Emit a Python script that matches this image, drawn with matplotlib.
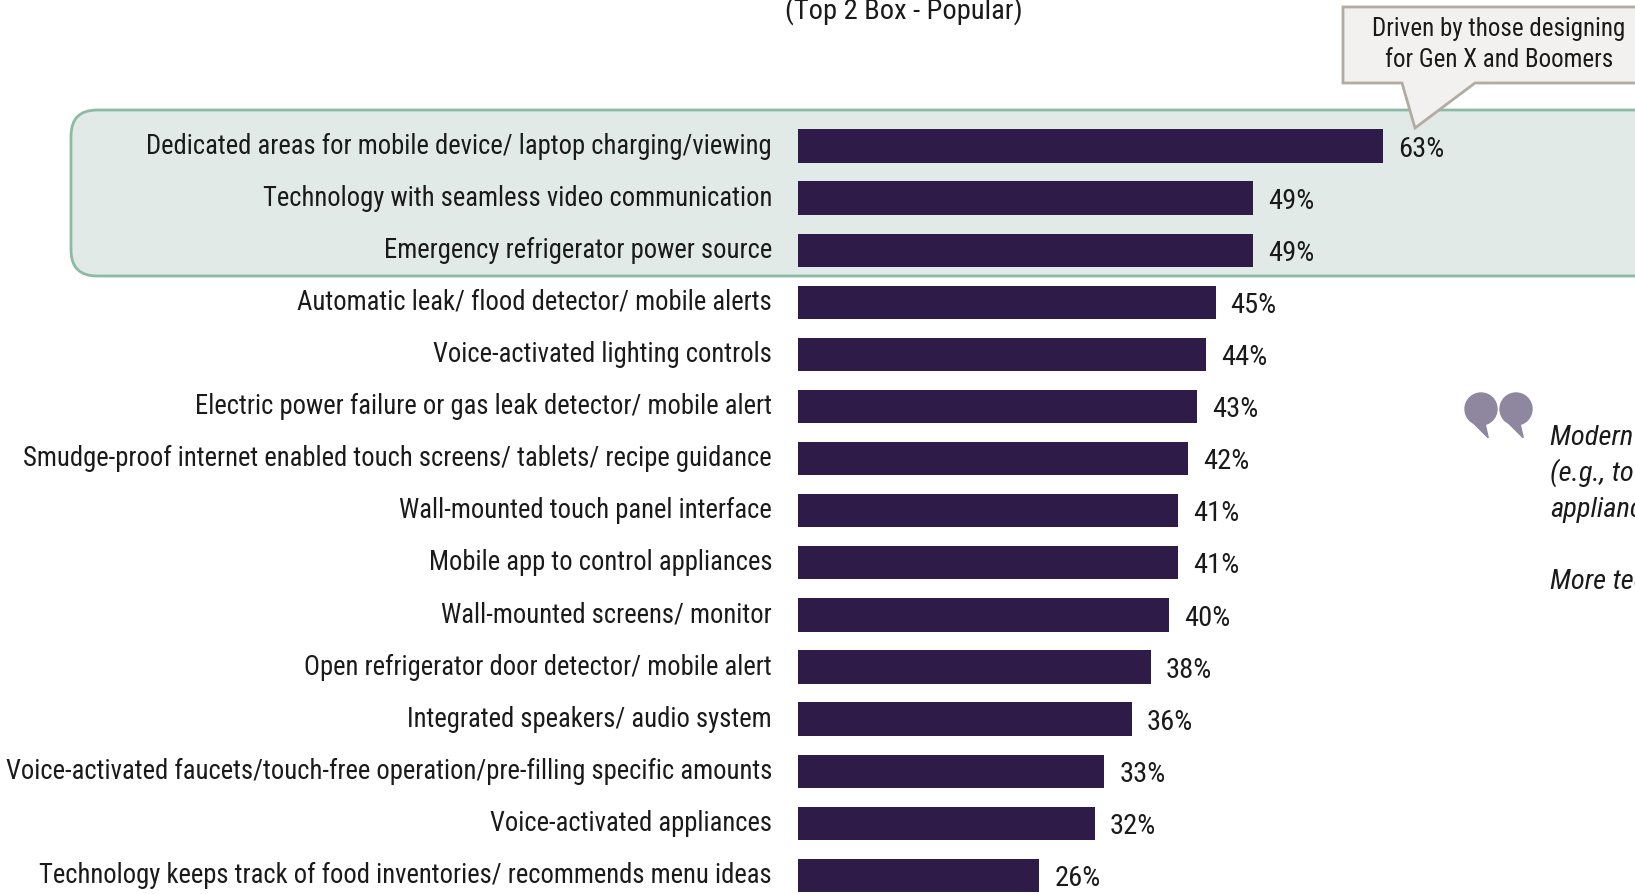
"""
Horizontal bar chart of popular kitchen technology features (top 2 box).
"""

import matplotlib.pyplot as plt
from matplotlib.patches import Circle, FancyBboxPatch, Polygon

features = [
    "Dedicated areas for mobile device/ laptop charging/viewing",
    "Technology with seamless video communication",
    "Emergency refrigerator power source",
    "Automatic leak/ flood detector/ mobile alerts",
    "Voice-activated lighting controls",
    "Electric power failure or gas leak detector/ mobile alert",
    "Smudge-proof internet enabled touch screens/ tablets/ recipe guidance",
    "Wall-mounted touch panel interface",
    "Mobile app to control appliances",
    "Wall-mounted screens/ monitor",
    "Open refrigerator door detector/ mobile alert",
    "Integrated speakers/ audio system",
    "Voice-activated faucets/touch-free operation/pre-filling specific amounts",
    "Voice-activated appliances",
    "Technology keeps track of food inventories/ recommends menu ideas",
]
popular = [63, 49, 49, 45, 44, 43, 42, 41, 41, 40, 38, 36, 33, 32, 26]
value_labels = ["63%", "49%", "49%", "45%", "44%", "43%", "42%", "41%",
                "41%", "40%", "38%", "36%", "33%", "32%", "26%"]

quote_lines = ["Modern technology", "(e.g., touch screens", "appliances", "", "More technology"]

FONT = ["Roboto Condensed", "DejaVu Sans"]
BAR = "#2f1b47"
W, H = 1635, 894

fig = plt.figure(figsize=(W / 100, H / 100), dpi=100)

# pixel-space layer for the boxes and side notes
bg = fig.add_axes([0, 0, 1, 1])
bg.set_xlim(0, W)
bg.set_ylim(H, 0)
bg.axis("off")

bg.text(904, 19, "(Top 2 Box - Popular)", ha="center", va="baseline",
        fontsize=20.5, family=FONT, color="#1a1a1a")

hl = FancyBboxPatch((71, 110), 1700, 166, boxstyle="round,pad=0,rounding_size=26",
                    facecolor="#e1eae7", edgecolor="#8dbaa5", linewidth=2, zorder=1)
bg.add_patch(hl)

callout = Polygon([(1343, 7), (1700, 7), (1700, 83), (1475, 83), (1415, 128),
                   (1402, 83), (1343, 83)], closed=True, facecolor="#f2f1ef",
                  edgecolor="#b3aaa3", linewidth=2, zorder=3)
bg.add_patch(callout)
bg.text(1499, 29, "Driven by those designing", ha="center", va="center",
        fontsize=18, family=FONT, color="#1a1a1a", zorder=4)
bg.text(1499, 60, "for Gen X and Boomers", ha="center", va="center",
        fontsize=18, family=FONT, color="#1a1a1a", zorder=4)

# quote mark: round head with a tail curling down to the right
qc = "#8f86a0"
r = 16
for cx in (1481, 1516):
    cy = 409
    bg.add_patch(Circle((cx, cy), r, color=qc, zorder=2))
    bg.add_patch(Polygon([(cx - 0.8 * r, cy + 0.55 * r), (cx - 0.3 * r, cy + 1.05 * r),
                          (cx + 0.45 * r, cy + 1.8 * r), (cx + 0.25 * r, cy + 0.9 * r)],
                         closed=True, color=qc, zorder=2))

for i, line in enumerate(quote_lines):
    bg.text(1550, 445 + 36 * i, line, ha="left", va="baseline", fontsize=20.5,
            family=FONT, style="italic", color="#1a1a1a")

# bar axes: 9.28 px per percentage point, 52.1 px per row
px_per_pct = 9.28
row = 52.1
x0 = 798
ax = fig.add_axes([x0 / W, 0, (W - x0) / W, 1])
ax.patch.set_alpha(0)
ax.set_xlim(0, (W - x0) / px_per_pct)
ax.set_ylim((H - 146) / row, -146 / row)
ax.axis("off")

ypos = list(range(len(features)))
ax.barh(ypos, popular, height=0.64, color=BAR, zorder=3)

for y, name, v, lab in zip(ypos, features, popular, value_labels):
    ax.text(-26 / px_per_pct, y, name, ha="right", va="center", fontsize=19.2,
            family=FONT, color="#1a1a1a", clip_on=False)
    ax.text(v + 15 / px_per_pct, y + 0.06, lab, ha="left", va="center", fontsize=20.5,
            family=FONT, color="#1a1a1a", zorder=5)

fig.savefig("out.png", dpi=100)
